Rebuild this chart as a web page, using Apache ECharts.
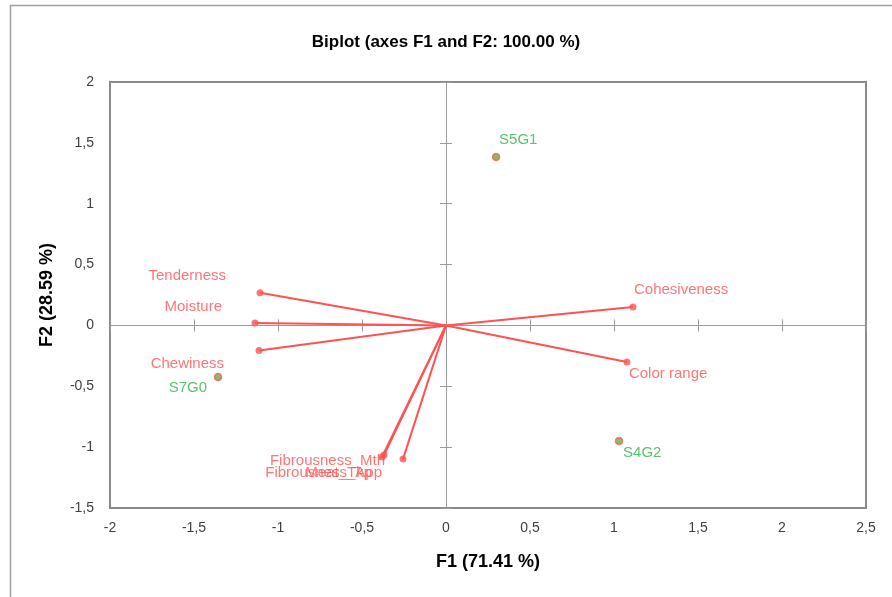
<!DOCTYPE html>
<html>
<head>
<meta charset="utf-8">
<script src="https://cdn.jsdelivr.net/npm/echarts@6/dist/echarts.min.js"></script>
<style>html,body{margin:0;padding:0;background:#fff}#c{width:892px;height:597px}</style>
</head>
<body>
<div id="c"></div>
<script>
// ---- data ----
var varNames = ['Tenderness','Moisture','Chewiness','Cohesiveness','Color range','Fibrousness_Mth','Fibrousness_App','Meat_Tkp'];
var varF1 = [-1.107,-1.137,-1.113,1.113,1.077,-0.369,-0.381,-0.256];
var varF2 = [0.269,0.020,-0.206,0.151,-0.300,-1.065,-1.081,-1.098];
var obsNames = ['S5G1','S7G0','S4G2'];
var obsF1 = [0.298,-1.357,1.030];
var obsF2 = [1.384,-0.424,-0.950];
var xTicks = [-2,-1.5,-1,-0.5,0,0.5,1,1.5,2,2.5];
var yTicks = [-1.5,-1,-0.5,0,0.5,1,1.5,2];

// ---- label placement (style, not data) ----
var labelPlace = {
  'Tenderness':{align:'right',dx:-34,dy:-17},
  'Moisture':{align:'right',dx:-33,dy:-16},
  'Chewiness':{align:'right',dx:-35,dy:13},
  'Cohesiveness':{align:'left',dx:1,dy:-17},
  'Color range':{align:'left',dx:2,dy:12},
  'Fibrousness_Mth':{align:'right',dx:1,dy:6},
  'Fibrousness_App':{align:'right',dx:0,dy:16},
  'Meat_Tkp':{align:'right',dx:-31,dy:14},
  'S5G1':{align:'left',dx:3,dy:-17},
  'S7G0':{align:'right',dx:-11,dy:11},
  'S4G2':{align:'left',dx:4,dy:12}
};

var FONT = '"Liberation Sans", Arial, sans-serif';
var RED = '#FF5252';
var GREEN = '#2EB34B';
var fmt = function(v){ return String(v).replace('.', ','); };

var xMin = xTicks[0], xMax = xTicks[xTicks.length-1], xInt = xTicks[1]-xTicks[0];
var yMin = yTicks[0], yMax = yTicks[yTicks.length-1], yInt = yTicks[1]-yTicks[0];

function baseAxis(min,max,interval){ return {type:'value',min:min,max:max,interval:interval,splitLine:{show:false}}; }

var xAxes = [
  Object.assign(baseAxis(xMin,xMax,xInt),{position:'bottom',axisLine:{show:false,onZero:false},axisTick:{show:false},
    axisLabel:{formatter:fmt,fontFamily:FONT,fontSize:14,color:'#404040',margin:13},
    name:'F1 (71.41 %)',nameLocation:'middle',nameGap:45,nameTextStyle:{fontFamily:FONT,fontSize:18,fontWeight:'bold',color:'#000'}}),
  Object.assign(baseAxis(xMin,xMax,xInt),{axisLine:{show:true,onZero:true,lineStyle:{color:'#9a9a9a',width:1}},axisTick:{show:true,inside:true,length:6,lineStyle:{color:'#9a9a9a'}},axisLabel:{show:false}}),
  Object.assign(baseAxis(xMin,xMax,xInt),{axisLine:{show:true,onZero:true,lineStyle:{color:'#9a9a9a',width:0,opacity:0}},axisTick:{show:true,inside:false,length:6,lineStyle:{color:'#9a9a9a'}},axisLabel:{show:false}})
];
var yAxes = [
  Object.assign(baseAxis(yMin,yMax,yInt),{position:'left',axisLine:{show:false,onZero:false},axisTick:{show:false},
    axisLabel:{formatter:fmt,fontFamily:FONT,fontSize:14,color:'#404040',margin:16},
    name:'F2 (28.59 %)',nameLocation:'middle',nameGap:54,nameRotate:90,nameTextStyle:{fontFamily:FONT,fontSize:18,fontWeight:'bold',color:'#000'}}),
  Object.assign(baseAxis(yMin,yMax,yInt),{axisLine:{show:true,onZero:true,lineStyle:{color:'#9a9a9a',width:1}},axisTick:{show:true,inside:true,length:6,lineStyle:{color:'#9a9a9a'}},axisLabel:{show:false}}),
  Object.assign(baseAxis(yMin,yMax,yInt),{axisLine:{show:true,onZero:true,lineStyle:{color:'#9a9a9a',width:0,opacity:0}},axisTick:{show:true,inside:false,length:6,lineStyle:{color:'#9a9a9a'}},axisLabel:{show:false}})
];

function labelFor(name,color){
  var p = labelPlace[name];
  return {show:true,position:'inside',align:p.align,verticalAlign:'middle',offset:[p.dx,p.dy],
    formatter:name,fontFamily:FONT,fontSize:15,color:color};
}

var series = [];
varNames.forEach(function(n,i){
  series.push({type:'line',xAxisIndex:0,yAxisIndex:0,data:[[0,0],[varF1[i],varF2[i]]],
    symbol:'none',lineStyle:{color:RED,width:2},silent:true,z:2});
});
series.push({type:'scatter',xAxisIndex:0,yAxisIndex:0,symbol:'circle',symbolSize:7,z:3,
  itemStyle:{color:RED},
  data:varNames.map(function(n,i){return {value:[varF1[i],varF2[i]],label:labelFor(n,RED)};})});
series.push({type:'scatter',xAxisIndex:0,yAxisIndex:0,symbol:'circle',symbolSize:7,z:3,
  itemStyle:{color:'#6DAA45',borderColor:'#F06050',borderWidth:1.5},
  data:obsNames.map(function(n,i){return {value:[obsF1[i],obsF2[i]],label:labelFor(n,GREEN)};})});

var chart = echarts.init(document.getElementById('c'),null,{renderer:'canvas'});
chart.setOption({
  animation:false,
  backgroundColor:'#fff',
  title:{text:'Biplot (axes F1 and F2: 100.00 %)',left:'center',top:29,
    textStyle:{fontFamily:FONT,fontSize:17,fontWeight:'bold',color:'#000'}},
  grid:{left:110,right:26,top:82,bottom:89,show:true,borderColor:'#8a8a8a',borderWidth:2,backgroundColor:'transparent'},
  xAxis:xAxes,
  yAxis:yAxes,
  series:series,
  graphic:[{type:'rect',shape:{x:10.5,y:5.5,width:900,height:620},style:{fill:'none',stroke:'#a0a0a0',lineWidth:1.5},silent:true,z:-10}]
});
</script>
</body>
</html>
